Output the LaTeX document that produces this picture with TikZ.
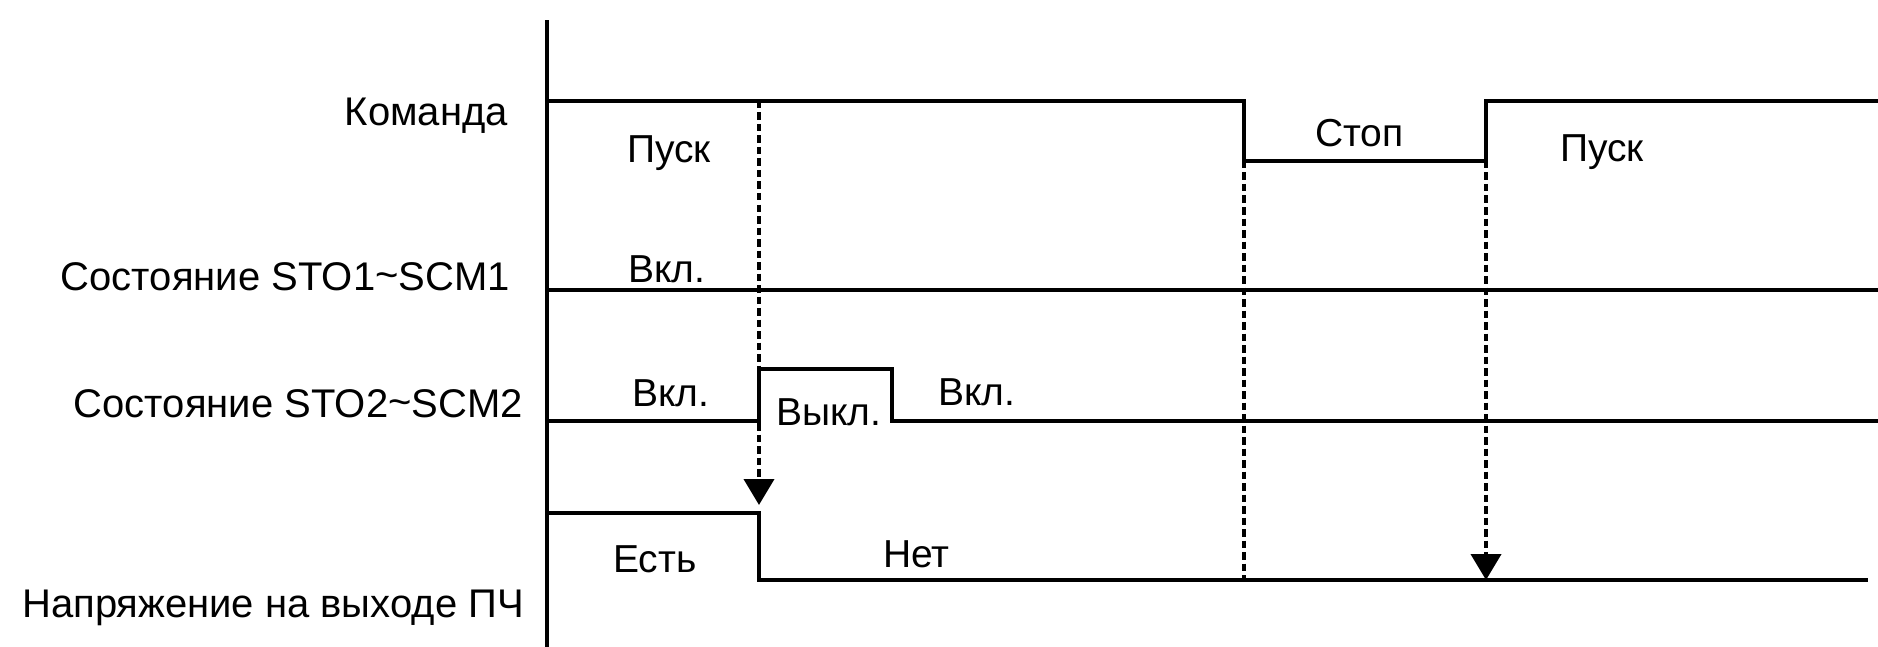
\documentclass[tikz,border=0pt]{standalone}
\usepackage{fontspec}
\setmainfont{Liberation Sans}
\usetikzlibrary{arrows.meta}
\begin{document}
\begin{tikzpicture}[x=1pt,y=-1pt,
  wave/.style={line width=4.5pt,line cap=rect,line join=miter},
  guide/.style={line width=4pt,dash pattern=on 7.5pt off 4pt},
  tipped/.style={guide,-{Triangle[width=30pt,length=26pt]}},
  lbl/.style={inner sep=0pt,font=\fontsize{39}{44}\selectfont},
  lblr/.style={lbl,anchor=base east,font=\fontsize{40}{44}\selectfont},
  lbll/.style={lbl,anchor=base west}]
\useasboundingbox (0,0) rectangle (1878,647);
\fill[white] (0,0) rectangle (1878,647);
% coordinates
\coordinate (axT) at (547,22);
\coordinate (axB) at (547,647);
% command
\coordinate (c0) at (547,101);
\coordinate (c1) at (1244,101);
\coordinate (c2) at (1244,161);
\coordinate (c3) at (1486,161);
\coordinate (c4) at (1486,101);
\coordinate (c5) at (1880,101);
% STO1
\coordinate (s10) at (547,290);
\coordinate (s11) at (1880,290);
% STO2
\coordinate (s20) at (547,421);
\coordinate (s21) at (759,421);
\coordinate (s22) at (759,369);
\coordinate (s23) at (892,369);
\coordinate (s24) at (892,421);
\coordinate (s25) at (1880,421);
% output voltage
\coordinate (v0) at (547,513);
\coordinate (v1) at (759,513);
\coordinate (v2) at (759,580);
\coordinate (v3) at (1866,580);
% guide ends
\coordinate (g1a) at (759,101);
\coordinate (g1b) at (759,505);
\coordinate (g2b) at (1244,580);
\coordinate (g3b) at (1486,580);

% axis
\draw[wave] (axT) -- (axB);
% waveforms
\draw[wave] (c0) -- (c1) -- (c2) -- (c3) -- (c4) -- (c5);
\draw[wave] (s10) -- (s11);
\draw[wave] (s20) -- (s21) -- (s22) -- (s23) -- (s24) -- (s25);
\draw[wave] (v0) -- (v1) -- (v2) -- (v3);
% dashed guides
\draw[tipped] (g1a) -- (g1b);
\draw[guide] (c2) -- (g2b);
\draw[tipped] (c3) -- (g3b);

% labels
\node[lblr] (lcmd) at (508,126) {Команда};
\node[lblr] (lsto1) at (510,290) {Состояние STO1\raisebox{2pt}{\char"007E}SCM1};
\node[lblr] (lsto2) at (523,417) {Состояние STO2\raisebox{2pt}{\char"007E}SCM2};
\node[lblr] (lout) at (524,617) {Напряжение на выходе ПЧ};
\node[lbll] (tstart1) at (627,163) {Пуск};
\node[lbll] (tstop) at (1315,147) {Стоп};
\node[lbll] (tstart2) at (1560,162) {Пуск};
\node[lbll] (ton1) at (628,282) {Вкл.};
\node[lbll] (ton2) at (632,406) {Вкл.};
\node[lbll] (toff) at (776,425) {Выкл.};
\node[lbll] (ton3) at (938,405) {Вкл.};
\node[lbll] (tyes) at (613,572) {Есть};
\node[lbll] (tno) at (883,567) {Нет};
\end{tikzpicture}
\end{document}
